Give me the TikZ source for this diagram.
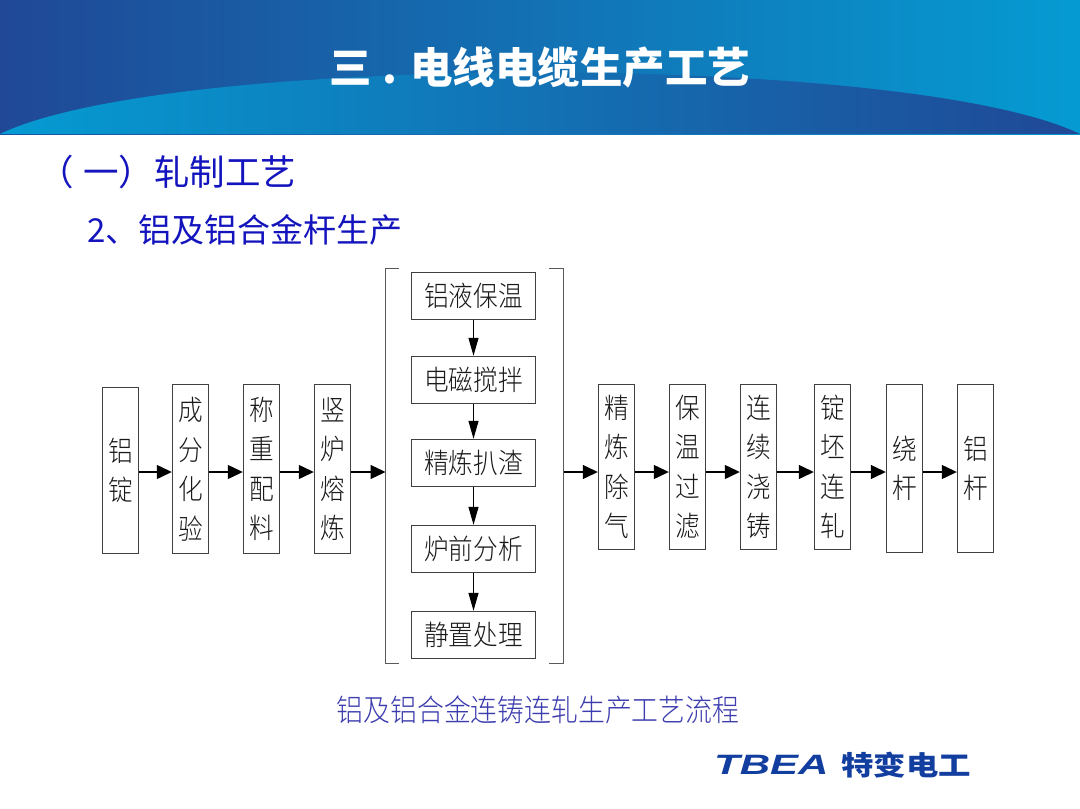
\documentclass[tikz,border=0pt]{standalone}
\usepackage{fontspec}
\usepackage{color}
\setmainfont{Noto Sans CJK SC}
\newfontfamily\flowfont[FakeStretch=0.88]{Noto Sans CJK SC Light}
\newfontfamily\logofont[FakeStretch=1.5]{Liberation Sans}
\newfontfamily\logocjk[FakeStretch=1.2]{Noto Sans CJK SC}
\usetikzlibrary{arrows.meta}
\definecolor{headdark}{RGB}{32,72,150}
\definecolor{headlight}{RGB}{5,155,210}
\definecolor{subblue}{RGB}{20,20,190}
\definecolor{capblue}{RGB}{60,60,175}
\definecolor{logoblue}{RGB}{18,62,160}
\tikzset{
  flowbox/.style={draw=black!75,line width=1.4pt,fill=white,inner sep=0pt,align=center,font=\flowfont\fontsize{28}{39.5}\selectfont,text=black!90},
  tallbox/.style={flowbox,minimum width=36pt},
  widebox/.style={flowbox,minimum width=124pt,minimum height=47pt},
  flowarrow/.style={-{Triangle[length=15pt,width=14pt]},line width=1.2pt,black},
  downarrow/.style={-{Triangle[length=18pt,width=10pt]},line width=1.2pt,black},
  bracketline/.style={draw=black!65,line width=1.4pt}
}
\begin{document}
\begin{tikzpicture}[x=1pt,y=-1pt]
  \useasboundingbox (0,0) rectangle (1080,809);
  \fill[white] (0,0) rectangle (1080,809);
  \shade[left color=headdark,right color=headlight] (0,0) rectangle (1080,134);
  \shade[left color=headlight,right color=headdark]
    (0,134) .. controls (170,52) and (910,52) .. (1080,134) -- cycle;
  \node (title) at (540,68) {\fontsize{42.5}{42.5}\selectfont\bfseries\textcolor{white}{三 . 电线电缆生产工艺}};
  \node[anchor=west,text=subblue] (part) at (35,172) {\fontsize{35.5}{35.5}\selectfont （\kern9pt 一）轧制工艺};
  \node[anchor=west,text=subblue] (sub) at (84,230) {\fontsize{33}{33}\selectfont 2、铝及铝合金杆生产};
  % left column
  \node[tallbox,minimum height=166pt] (ingot) at (120.5,470.5) {铝\\锭};
  \node[tallbox,minimum height=169pt] (assay) at (190.5,469) {成\\分\\化\\验};
  \node[tallbox,minimum height=169pt] (weigh) at (261.5,469) {称\\重\\配\\料};
  \node[tallbox,minimum height=169pt] (furnace) at (332.5,469) {竖\\炉\\熔\\炼};
  % bracket
  \coordinate (brleft) at (385.5,472);
  \coordinate (brright) at (563.5,472);
  \path[bracketline] (399,268.5) -- (385.5,268.5) -- (385.5,663.5) -- (399,663.5);
  \path[bracketline] (549,268.5) -- (563.5,268.5) -- (563.5,663.5) -- (549,663.5);
  % middle column
  \node[widebox] (hold) at (473.5,296) {铝液保温};
  \node[widebox] (stir) at (473.5,380) {电磁搅拌};
  \node[widebox] (refine) at (473.5,463) {精炼扒渣};
  \node[widebox] (analysis) at (473.5,549) {炉前分析};
  \node[widebox] (settle) at (473.5,635) {静置处理};
  % right column
  \node[tallbox,minimum height=165pt] (degas) at (616.5,467) {精\\炼\\除\\气};
  \node[tallbox,minimum height=165pt] (filter) at (687.5,467) {保\\温\\过\\滤};
  \node[tallbox,minimum height=165pt] (cast) at (758.5,467) {连\\续\\浇\\铸};
  \node[tallbox,minimum height=165pt] (roll) at (832.5,467) {锭\\坯\\连\\轧};
  \node[tallbox,minimum height=168pt] (coil) at (904.5,468.5) {绕\\杆};
  \node[tallbox,minimum height=168pt] (rod) at (975.5,468.5) {铝\\杆};
  \path[flowarrow]
    (ingot.east|-brleft) edge (assay.west|-brleft)
    (assay.east|-brleft) edge (weigh.west|-brleft)
    (weigh.east|-brleft) edge (furnace.west|-brleft)
    (furnace.east|-brleft) edge (brleft)
    (brright) edge (degas.west|-brright)
    (degas.east|-brright) edge (filter.west|-brright)
    (filter.east|-brright) edge (cast.west|-brright)
    (cast.east|-brright) edge (roll.west|-brright)
    (roll.east|-brright) edge (coil.west|-brright)
    (coil.east|-brright) edge (rod.west|-brright);
  \path[downarrow]
    (hold) edge (stir)
    (stir) edge (refine)
    (refine) edge (analysis)
    (analysis) edge (settle);
  \node[text=capblue] (caption) at (538,710) {\flowfont\fontsize{30.5}{30.5}\selectfont 铝及铝合金连铸连轧生产工艺流程};
  \node[anchor=west,text=logoblue,inner sep=0pt] (logotxt) at (714,765) {\logofont\fontsize{28}{28}\selectfont\bfseries\itshape TBEA};
  \node[anchor=west,text=logoblue,inner sep=0pt] (logoword) at (841,765) {\logocjk\fontsize{27}{27}\selectfont\bfseries 特变电工};
\end{tikzpicture}
\end{document}
